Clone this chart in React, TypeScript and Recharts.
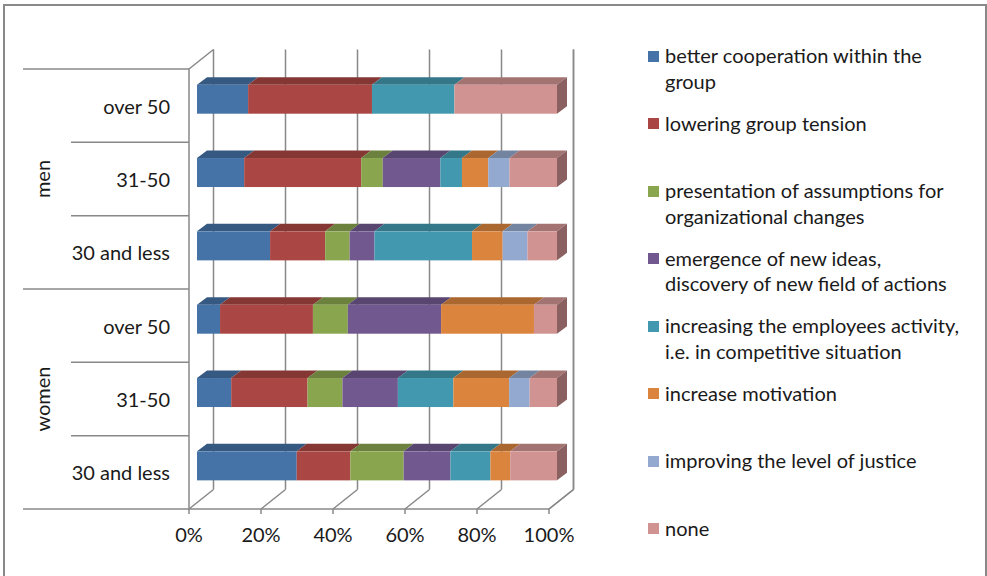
import React from 'react';
import { BarChart, Bar, XAxis, YAxis, CartesianGrid, Legend } from 'recharts';

// rows, top to bottom
const rowKeys = ['m-over50', 'm-31-50', 'm-30less', 'w-over50', 'w-31-50', 'w-30less'];
const rowLabels = ['over 50', '31-50', '30 and less', 'over 50', '31-50', '30 and less'];
const rowGroups = ['men', 'men', 'men', 'women', 'women', 'women'];

const seriesNames = [
  'better cooperation within the\ngroup',
  'lowering group tension',
  'presentation of assumptions for\norganizational changes',
  'emergence of new ideas,\ndiscovery of new field of actions',
  'increasing the employees activity,\ni.e. in competitive situation',
  'increase motivation',
  'improving the level of justice',
  'none',
];
const seriesColors = ['#4572A7', '#AA4643', '#89A54E', '#71588F', '#4198AF', '#DB843D', '#93A9CF', '#D19392'];

// percent shares per row
const cooperation = [14.2, 13.1, 20.3, 6.4, 9.5, 27.7];
const tension = [34.4, 32.5, 15.3, 25.8, 21.2, 14.9];
const assumptions = [0, 6.0, 6.8, 9.7, 9.7, 14.8];
const newIdeas = [0, 16.0, 6.9, 25.9, 15.4, 13.0];
const activity = [22.9, 6.0, 27.1, 0, 15.4, 11.1];
const motivation = [0, 7.3, 8.5, 25.8, 15.5, 5.5];
const justice = [0, 5.9, 6.9, 0, 5.7, 0];
const none = [28.5, 13.2, 8.2, 6.4, 7.6, 13.0];
const seriesValues = [cooperation, tension, assumptions, newIdeas, activity, motivation, justice, none];

const xTicks = [0, 20, 40, 60, 80, 100];

const data = rowKeys.map((key, i) => {
  const row: any = { key };
  seriesValues.forEach((vals, s) => {
    row['s' + s] = vals[i];
  });
  return row;
});

const CHART_W = 987;
const CHART_H = 576;
const PLOT_LEFT = 189;
const PLOT_RIGHT = 549;
const PLOT_TOP = 69;
const PLOT_BOTTOM = 509;
const Y_AXIS_W = 180;
const X_AXIS_H = 40;
const BAND = (PLOT_BOTTOM - PLOT_TOP) / rowKeys.length;
const FLOOR_DX = 24.5;
const FLOOR_DY = 19.5;
const BAR_SHIFT_X = 8;
const BAR_SHIFT_Y = -6.3;
const BAR_DX = 10;
const BAR_DY = 7.5;
const FONT = 'Lato, "Open Sans", sans-serif';
const FONT_SIZE = 20;
const GRID = '#888888';
const TEXT = '#1a1a1a';

const shade = (hex: string, f: number) => {
  const n = parseInt(hex.slice(1), 16);
  const r = Math.round(((n >> 16) & 255) * f);
  const g = Math.round(((n >> 8) & 255) * f);
  const b = Math.round((n & 255) * f);
  return `rgb(${r},${g},${b})`;
};

const makeShape = (color: string, isLast: boolean) => (props: any) => {
  const { x, y, width, height } = props;
  if (!width || width <= 0) return <g />;
  const fx = x + BAR_SHIFT_X;
  const fy = y + BAR_SHIFT_Y;
  const topPts = `${fx},${fy} ${fx + BAR_DX},${fy - BAR_DY} ${fx + width + BAR_DX},${fy - BAR_DY} ${fx + width},${fy}`;
  const sidePts = `${fx + width},${fy} ${fx + width + BAR_DX},${fy - BAR_DY} ${fx + width + BAR_DX},${fy + height - BAR_DY} ${fx + width},${fy + height}`;
  return (
    <g>
      <polygon points={topPts} fill={shade(color, 0.78)} />
      {isLast && <polygon points={sidePts} fill={shade(color, 0.66)} />}
      <rect x={fx} y={fy} width={width} height={height} fill={color} />
    </g>
  );
};

const gridLine = (props: any) => {
  const { x1, y1, y2 } = props;
  const bx = x1 + FLOOR_DX;
  return (
    <g key={props.key}>
      <line x1={bx} y1={y1 - FLOOR_DY} x2={bx} y2={y2 - FLOOR_DY} stroke={GRID} strokeWidth={1.5} />
      <line x1={x1} y1={y2} x2={bx} y2={y2 - FLOOR_DY} stroke={GRID} strokeWidth={1.5} />
      {Math.abs(x1 - PLOT_LEFT) < 1 && (
        <line x1={x1} y1={y1} x2={bx} y2={y1 - FLOOR_DY} stroke={GRID} strokeWidth={1.5} />
      )}
    </g>
  );
};

const CategoryTick = (props: any) => {
  const { y, payload } = props;
  const i = payload.index;
  const startX = i % 3 === 0 ? 23 : 71;
  return (
    <g>
      <line x1={startX} y1={y - BAND / 2} x2={PLOT_LEFT} y2={y - BAND / 2} stroke={GRID} strokeWidth={1.5} />
      {i === rowKeys.length - 1 && (
        <line x1={23} y1={y + BAND / 2} x2={PLOT_LEFT} y2={y + BAND / 2} stroke={GRID} strokeWidth={1.5} />
      )}
      <text x={170} y={y + 1} dy="0.35em" textAnchor="end" fill={TEXT} fontSize={FONT_SIZE} fontFamily={FONT}>
        {rowLabels[i]}
      </text>
      {i % 3 === 1 && (
        <text
          x={43}
          y={y}
          dy="0.35em"
          textAnchor="middle"
          transform={`rotate(-90 43 ${y})`}
          fill={TEXT}
          fontSize={FONT_SIZE}
          fontFamily={FONT}
        >
          {rowGroups[i]}
        </text>
      )}
    </g>
  );
};

const LegendContent = (props: any) => {
  const items = props.payload || [];
  return (
    <div style={{ fontFamily: FONT, fontSize: FONT_SIZE, color: TEXT }}>
      {items.map((it: any, i: number) => (
        <div key={i} style={{ height: 67.5, display: 'flex', alignItems: 'flex-start' }}>
          <div style={{ width: 11, height: 11, background: it.color, marginTop: 7.5, marginRight: 6, flex: 'none' }} />
          <div style={{ whiteSpace: 'pre', lineHeight: '25.7px' }}>{it.value}</div>
        </div>
      ))}
    </div>
  );
};

export default function App() {
  return (
    <div style={{ position: 'absolute', left: 0, top: 0, width: CHART_W, height: CHART_H, overflow: 'hidden', background: '#fff' }}>
      <div
        style={{
          position: 'absolute',
          left: 3,
          top: 4,
          width: 980,
          height: 600,
          border: '2px solid #898989',
        }}
      />
      <div style={{ position: 'absolute', left: 0, top: 0 }}>
        <BarChart
          width={CHART_W}
          height={CHART_H}
          data={data}
          layout="vertical"
          margin={{
            top: PLOT_TOP,
            bottom: CHART_H - PLOT_BOTTOM - X_AXIS_H,
            left: PLOT_LEFT - Y_AXIS_W,
            right: CHART_W - PLOT_RIGHT,
          }}
          barSize={29}
        >
          <CartesianGrid horizontal={false} vertical={gridLine} />
          <XAxis
            type="number"
            domain={[0, 100]}
            ticks={xTicks}
            height={X_AXIS_H}
            tickFormatter={(v: number) => `${v}%`}
            axisLine={{ stroke: GRID, strokeWidth: 1.5 }}
            tickLine={{ stroke: GRID, strokeWidth: 1.5 }}
            tickSize={5}
            tickMargin={14}
            tick={{ fill: TEXT, fontSize: FONT_SIZE, fontFamily: FONT }}
            interval={0}
          />
          <YAxis
            type="category"
            dataKey="key"
            width={Y_AXIS_W}
            axisLine={{ stroke: GRID, strokeWidth: 1.5 }}
            tickLine={false}
            tick={<CategoryTick />}
            interval={0}
          />
          <Legend
            layout="vertical"
            align="center"
            verticalAlign="middle"
            itemSorter="dataKey"
            wrapperStyle={{ left: 648, top: 43, width: 335 }}
            content={<LegendContent />}
          />
          {seriesNames.map((name, s) => (
            <Bar
              key={s}
              dataKey={'s' + s}
              name={name}
              stackId="a"
              fill={seriesColors[s]}
              shape={makeShape(seriesColors[s], s === seriesNames.length - 1)}
              isAnimationActive={false}
            />
          ))}
        </BarChart>
      </div>
    </div>
  );
}
